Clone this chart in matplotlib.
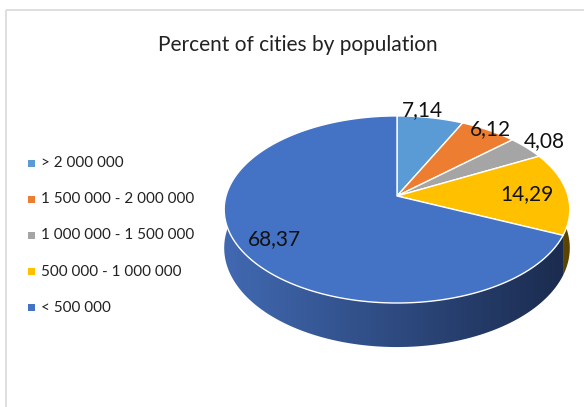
import numpy as np
import matplotlib.pyplot as plt
from matplotlib.patches import Polygon, Rectangle
from matplotlib.colors import LinearSegmentedColormap

categories = ['> 2 000 000', '1 500 000 - 2 000 000', '1 000 000 - 1 500 000',
              '500 000 - 1 000 000', '< 500 000']
values = [7.14, 6.12, 4.08, 14.29, 68.37]
value_labels = ['7,14', '6,12', '4,08', '14,29', '68,37']
title = 'Percent of cities by population'

colors = ['#5B9BD5', '#ED7D31', '#A5A5A5', '#FFC000', '#4472C4']
side_left = ['#3b6e9c', '#a3561f', '#6e6e6e', '#8a6800', '#4169B2']
side_right = ['#223f5c', '#5e3010', '#404040', '#5a4400', '#1A2A4C']

# label placement (radius factor, angle nudge in degrees)
label_r = [1.1, 1.02, 1.15, 0.76, 0.8]
label_nudge = [4, 0, 0, 0, 0]

# pie geometry in pixel space (simple perspective of a tilted disc)
cx, cy = 397, 196
R, B, k, D = 171, 91.6, 0.144, 37.7

plt.rcParams['font.family'] = ['Lato', 'DejaVu Sans']


def proj(theta, r=1.0, z=0.0):
    t = np.radians(theta)
    d = r * np.sin(t)
    s = 1.0 / (1.0 + k * d)
    x = cx + R * r * np.cos(t) * s
    y = cy - B * r * np.sin(t) * s + z * D * s
    return x, y


fig = plt.figure(figsize=(5.84, 4.07), dpi=100)
ax = fig.add_axes([0, 0, 1, 1])
ax.set_xlim(0, 584)
ax.set_ylim(407, 0)
ax.axis('off')

# chart frame
ax.add_patch(Rectangle((6, 10), 700, 600, fill=False, edgecolor='#d9d9d9', lw=1.2))

ax.text(298, 45, title, ha='center', va='center', fontsize=15, color='#222222')

# slice angles (clockwise from 12 o'clock)
starts, ends = [], []
a = 90.0
for v in values:
    starts.append(a)
    a -= v * 3.6
    ends.append(a)

# side faces (front half only)
gx = np.linspace(0, 1, 256).reshape(1, -1)
for i in range(len(values)):
    lo = max(ends[i], -190)
    hi = min(starts[i], 10)
    if lo >= hi:
        continue
    th = np.linspace(hi, lo, 200)
    xt, yt = proj(th)
    xb, yb = proj(th[::-1], z=1.0)
    pts = np.column_stack([np.r_[xt, xb], np.r_[yt, yb]])
    poly = Polygon(pts, closed=True, facecolor='none', edgecolor='none')
    ax.add_patch(poly)
    cmap = LinearSegmentedColormap.from_list('side%d' % i, [side_left[i], side_right[i]])
    im = ax.imshow(gx, cmap=cmap, extent=(224, 572, 350, 180), aspect='auto',
                   interpolation='bilinear')
    im.set_clip_path(poly)

# top faces
for i in range(len(values)):
    th = np.linspace(starts[i], ends[i], 300)
    xr, yr = proj(th)
    pts = np.column_stack([np.r_[cx, xr], np.r_[cy, yr]])
    ax.add_patch(Polygon(pts, closed=True, facecolor=colors[i],
                         edgecolor='white', lw=1.0, joinstyle='round'))

# data labels
for i in range(len(values)):
    mid = (starts[i] + ends[i]) / 2 + label_nudge[i]
    lx, ly = proj(mid, r=label_r[i])
    ax.text(lx, ly, value_labels[i], ha='center', va='center', fontsize=15,
            color='#111111')

# legend
for i, cat in enumerate(categories):
    y = 163 + i * 36.2
    ax.add_patch(Rectangle((28, y - 3.5), 7, 7, facecolor=colors[i], edgecolor='none'))
    ax.text(41, y, cat, ha='left', va='center', fontsize=11, color='#222222')

fig.savefig('out.png', dpi=100)
